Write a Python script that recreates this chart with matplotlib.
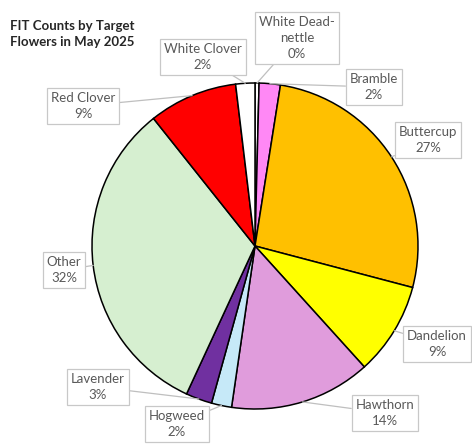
import matplotlib

matplotlib.use("Agg")
import matplotlib.pyplot as plt
import numpy as np

# slices clockwise from 12 o'clock (percent of FIT counts)
categories = ["White Dead-\nnettle", "Bramble", "Buttercup", "Dandelion", "Hawthorn",
              "Hogweed", "Lavender", "Other", "Red Clover", "White Clover"]
shares = [0.4, 2.1, 26.6, 9.2, 14.0, 2.0, 2.6, 32.4, 8.8, 1.9]
colors = ["#ffffff", "#ff88f5", "#ffc000", "#ffff00", "#e09cdc",
          "#c6e9f8", "#7030a0", "#d6efd0", "#ff0000", "#ffffff"]

# label box centres in pixel coords (x, y from top)
label_pos = {
    "White Dead-\nnettle": (297, 38),
    "Bramble": (374, 87),
    "Buttercup": (428, 140),
    "Dandelion": (437, 344),
    "Hawthorn": (385, 413),
    "Hogweed": (177, 424),
    "Lavender": (98, 387),
    "Other": (64, 270),
    "Red Clover": (83, 106),
    "White Clover": (203, 57),
}

W, H = 472, 445
CX, CY, R = 255, H - 246, 163

fig = plt.figure(figsize=(W / 100, H / 100), dpi=100)
ax = fig.add_axes([0, 0, 1, 1])
ax.set_xlim(0, W)
ax.set_ylim(0, H)
ax.axis("off")

wedges, _ = ax.pie(shares, colors=colors, startangle=90, counterclock=False,
                   center=(CX, CY), radius=R,
                   wedgeprops=dict(edgecolor="black", linewidth=1.1))
ax.set_xlim(0, W)
ax.set_ylim(0, H)

total = sum(shares)
for w, name, val in zip(wedges, categories, shares):
    mid = np.deg2rad((w.theta1 + w.theta2) / 2)
    px, py = CX + R * np.cos(mid), CY + R * np.sin(mid)
    lx, ly = label_pos[name]
    ax.annotate(f"{name}\n{round(100 * val / total):.0f}%", xy=(px, py),
                xytext=(lx, H - ly), ha="center", va="center",
                fontsize=9.5, family="Lato", color="#595959", linespacing=1.4,
                bbox=dict(boxstyle="square,pad=0.3", fc="white", ec="#c8c8c8", lw=0.9),
                arrowprops=dict(arrowstyle="-", color="#bfbfbf", lw=0.9,
                                shrinkA=0, shrinkB=0))

fig.text(10 / W, 1 - 34 / H, "FIT Counts by Target\nFlowers in May 2025",
         ha="left", va="center", fontsize=9.5, fontweight="bold",
         family="Lato", color="#262626", linespacing=1.35)

fig.savefig("out.png", dpi=100)
